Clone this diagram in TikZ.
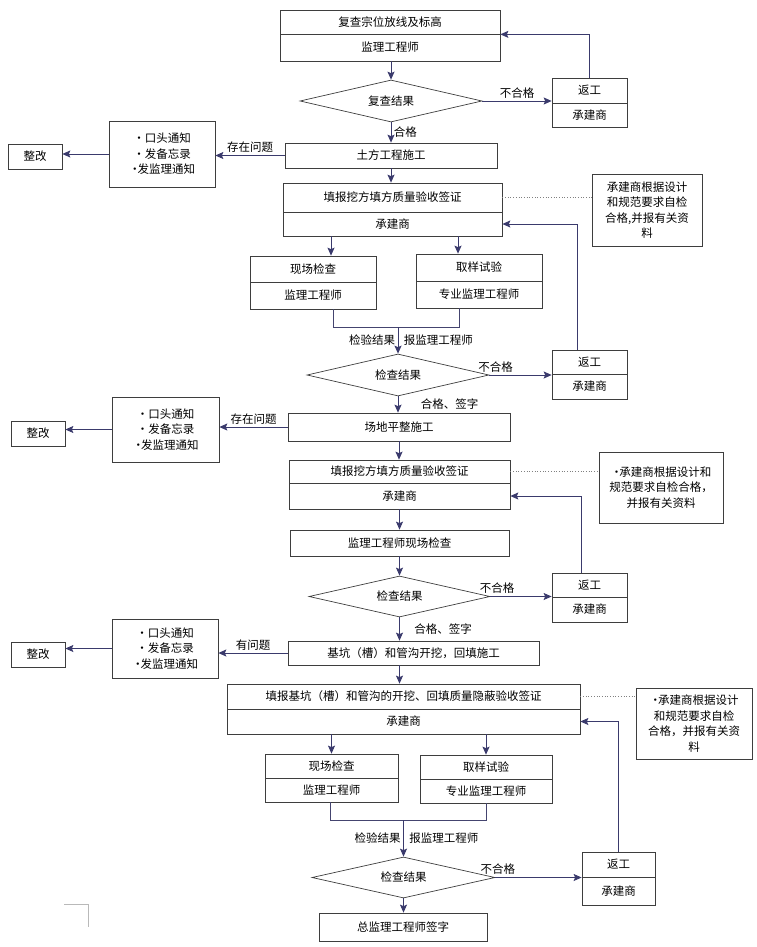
\documentclass[tikz,border=0pt]{standalone}
\usepackage{fontspec}
\setmainfont{Noto Sans CJK SC}
\usepackage{tikz}
\usetikzlibrary{shapes.geometric,arrows.meta}
\definecolor{boxc}{RGB}{62,62,62}
\definecolor{arrc}{RGB}{58,58,108}

\begin{document}
\begin{tikzpicture}[x=1pt,y=-1pt,
    box/.style={draw=boxc, line width=0.7pt, inner sep=0pt, font=\fontsize{11.5}{14}\selectfont},
    note/.style={box, align=center, font=\fontsize{11.5}{15.5}\selectfont},
    test/.style={diamond, draw=boxc, line width=0.7pt, inner sep=0pt, aspect=4.4,
        minimum width=182pt, minimum height=42pt, font=\fontsize{11.5}{14}\selectfont},
    arr/.style={draw=arrc, line width=0.9pt, -{Stealth[length=8pt,width=7pt,inset=1.5pt]}},
    link/.style={draw=arrc!85!gray, line width=0.9pt},
    lbl/.style={font=\fontsize{11.5}{14}\selectfont, inner sep=2.5pt},
    dots/.style={draw=gray, dotted, line width=0.7pt}]
\useasboundingbox (0,0) rectangle (757,947);

% first stage
\node[box, minimum width=220pt, minimum height=24pt] (r1a) at (390,22) {复查宗位放线及标高};
\node[box, minimum width=220pt, minimum height=27pt] (r1b) at (390,47.5) {监理工程师};
\node[test] (d1) at (391,101) {复查结果};
\node[box, minimum width=75pt, minimum height=25pt] (g1a) at (589.5,90.5) {返工};
\node[box, minimum width=75pt, minimum height=24pt] (g1b) at (589.5,115) {承建商};
\node[box, minimum width=212pt, minimum height=25pt] (w1) at (391,155.5) {土方工程施工};
\node[note, minimum width=106pt, minimum height=66pt] (n1) at (162,154) {·口头通知\\·发备忘录\\·\kern-3pt 发监理通知};
\node[box, minimum width=54pt, minimum height=25pt] (z1) at (35,156.5) {整改};
\node[box, minimum width=219pt, minimum height=29pt] (f1a) at (392.5,197.5) {填报挖方填方质量验收签证};
\node[box, minimum width=219pt, minimum height=24pt] (f1b) at (392.5,224) {承建商};
\node[note, minimum width=110pt, minimum height=72pt] (p1) at (647,210) {承建商根据设计\\和规范要求自检\\合格,并报有关资\\料};
\node[box, minimum width=126pt, minimum height=26pt] (s1a) at (313,269) {现场检查};
\node[box, minimum width=126pt, minimum height=27pt] (s1b) at (313,295.5) {监理工程师};
\node[box, minimum width=126pt, minimum height=27pt] (t1a) at (479,267.5) {取样试验};
\node[box, minimum width=126pt, minimum height=27pt] (t1b) at (479,294.5) {专业监理工程师};

\draw[arr] (r1b.south -| d1.north) -- (d1.north);
\draw[arr] (d1.east) -- (d1.east -| g1a.west) node[lbl,midway,above]{不合格};
\draw[arr] (g1a.north) |- (r1a.south east);
\draw[arr] (d1.south) -- (d1.south |- w1.north) node[lbl,midway,right]{合格};
\draw[arr] (w1.west) -- (w1.west -| n1.east) node[lbl,midway,above]{存在问题};
\draw[arr] (n1.west) -- (n1.west -| z1.east);
\draw[arr] (w1.south) -- (w1.south |- f1a.north);
\draw[dots] (f1a.east) -- (f1a.east -| p1.west);

\coordinate (c1) at (331,0);
\coordinate (c2) at (458,0);
\draw[arr] (f1b.south -| c1) -- (s1a.north -| c1);
\draw[arr] (f1b.south -| c2) -- (t1a.north -| c2);

% second stage
\node[test] (d2) at (398,375) {检查结果};
\node[box, minimum width=75pt, minimum height=24pt] (g2a) at (589.5,362) {返工};
\node[box, minimum width=75pt, minimum height=25pt] (g2b) at (589.5,386.5) {承建商};
\node[box, minimum width=222pt, minimum height=28pt] (w2) at (399,427) {场地平整施工};
\node[note, minimum width=107pt, minimum height=65pt] (n2) at (165.5,429.5) {·口头通知\\·发备忘录\\·\kern-3pt 发监理通知};
\node[box, minimum width=54pt, minimum height=25pt] (z2) at (38,433.5) {整改};
\node[box, minimum width=221pt, minimum height=23pt] (f2a) at (399.5,471.5) {填报挖方填方质量验收签证};
\node[box, minimum width=221pt, minimum height=26pt] (f2b) at (399.5,496) {承建商};
\node[note, minimum width=124pt, minimum height=71pt] (p2) at (661,487.5) {·\kern-3pt 承建商根据设计和\\规范要求自检合格，\\并报有关资料};
\node[box, minimum width=219pt, minimum height=26pt] (v2) at (399.5,543) {监理工程师现场检查};

\coordinate (j1) at (333,327);
\coordinate (j2) at (459,327);
\draw[link] (s1b.south -| j1) -- (j1) -- (j2) -- (t1b.south -| j2);
\draw[arr] (j1 -| d2.north) -- (d2.north)
    node[lbl,midway,left]{检验结果} node[lbl,midway,right,xshift=3pt]{报监理工程师};
\draw[arr] (d2.east) -- (d2.east -| g2a.west) node[lbl,pos=0.1,above]{不合格};
\draw[arr] ([xshift=-12pt]g2a.north) |- (f1b.east);
\draw[arr] (d2.south) -- (d2.south |- w2.north) node[lbl,midway,right,xshift=20pt]{合格、签字};
\draw[arr] (w2.west) -- (w2.west -| n2.east) node[lbl,midway,above]{存在问题};
\draw[arr] (n2.west) -- (n2.west -| z2.east);
\draw[arr] (w2.south) -- (w2.south |- f2a.north);
\draw[dots] (f2a.east) -- (f2a.east -| p2.west);
\draw[arr] (f2b.south) -- (f2b.south |- v2.north);

% third stage
\node[test, minimum width=181pt, minimum height=41pt] (d3) at (399.5,596.5) {检查结果};
\node[box, minimum width=75pt, minimum height=24pt] (g3a) at (589.5,585) {返工};
\node[box, minimum width=75pt, minimum height=25pt] (g3b) at (589.5,609.5) {承建商};
\node[box, minimum width=251pt, minimum height=24pt] (w3) at (413.5,653) {基坑（槽）和管沟开挖，回填施工};
\node[note, minimum width=106pt, minimum height=59pt] (n3) at (165,648.5) {·口头通知\\·发备忘录\\·\kern-3pt 发监理通知};
\node[box, minimum width=54pt, minimum height=25pt] (z3) at (38,654.5) {整改};
\node[box, minimum width=353pt, minimum height=25pt] (f3a) at (403.5,696.5) {填报基坑（槽）和管沟的开挖、回填质量隐蔽验收签证};
\node[box, minimum width=353pt, minimum height=25pt] (f3b) at (403.5,721.5) {承建商};
\node[note, minimum width=116pt, minimum height=71pt] (p3) at (694,723.5) {·\kern-3pt 承建商根据设计\\和规范要求自检\\合格，并报有关资\\料};

\draw[arr] (v2.south) -- (v2.south |- d3.north);
\draw[arr] (d3.east) -- (d3.east -| g3a.west) node[lbl,pos=0.11,above]{不合格};
\draw[arr] ([xshift=-8.5pt]g3a.north) |- (f2b.east);
\draw[arr] (d3.south) -- (d3.south |- w3.north) node[lbl,midway,right,xshift=12pt]{合格、签字};
\draw[arr] (w3.west) -- (w3.west -| n3.east) node[lbl,midway,above]{有问题};
\draw[arr] (n3.west) -- (n3.west -| z3.east);
\draw[arr] (d3.south |- w3.south) -- (d3.south |- f3a.north);
\draw[dots] (f3a.east) -- (f3a.east -| p3.west);

% last stage
\node[box, minimum width=133pt, minimum height=24pt] (s3a) at (331.5,766) {现场检查};
\node[box, minimum width=133pt, minimum height=24pt] (s3b) at (331.5,790) {监理工程师};
\node[box, minimum width=132pt, minimum height=24pt] (t3a) at (486,767) {取样试验};
\node[box, minimum width=132pt, minimum height=24pt] (t3b) at (486,791) {专业监理工程师};
\node[test, minimum width=183pt, minimum height=41pt] (d4) at (403.5,877.5) {检查结果};
\node[box, minimum width=73pt, minimum height=25pt] (g4a) at (618.5,864.5) {返工};
\node[box, minimum width=73pt, minimum height=28pt] (g4b) at (618.5,891) {承建商};
\node[box, minimum width=168pt, minimum height=28pt] (e4) at (403,927) {总监理工程师签字};

\draw[arr] (s3a.north |- f3b.south) -- (s3a.north);
\draw[arr] (t3a.north |- f3b.south) -- (t3a.north);
\coordinate (j3) at (330,820);
\coordinate (j4) at (486,820);
\draw[link] (s3b.south -| j3) -- (j3) -- (j4) -- (t3b.south -| j4);
\draw[arr] (j3 -| d4.north) -- (d4.north)
    node[lbl,midway,left]{检验结果} node[lbl,midway,right,xshift=3pt]{报监理工程师};
\draw[arr] (d4.east) -- (d4.east -| g4a.west) node[lbl,pos=0.03,above]{不合格};
\draw[arr] (g4a.north) |- (f3b.east);
\draw[arr] (d4.south) -- (d4.south |- e4.north);

\draw[gray!55, line width=0.6pt] (64,904) -- (88,904) -- (88,927);
\end{tikzpicture}
\end{document}
